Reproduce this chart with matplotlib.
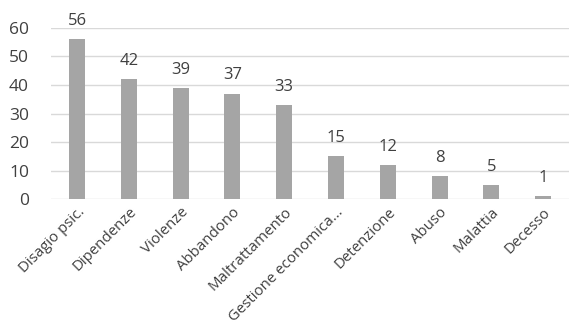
import matplotlib.pyplot as plt
import numpy as np

# categories and counts
categories = ["Disagio psic.", "Dipendenze", "Violenze", "Abbandono", "Maltrattamento",
              "Gestione economica...", "Detenzione", "Abuso", "Malattia", "Decesso"]
counts = [56, 42, 39, 37, 33, 15, 12, 8, 5, 1]
y_ticks = [0, 10, 20, 30, 40, 50, 60]

plt.rcParams['font.family'] = ['Open Sans', 'DejaVu Sans']

fig = plt.figure(figsize=(5.69, 3.29), dpi=100)
ax = fig.add_axes([0.09, 0.395, 0.91, 0.52])

x = np.arange(len(categories))
bars = ax.bar(x, counts, width=0.31, color="#a5a5a5", zorder=3)

# value labels on top of each bar
for xi, v in zip(x, counts):
    ax.text(xi, v + 3.6, str(v), ha="center", va="bottom", fontsize=12,
            color="#404040", clip_on=False)

ax.set_xlim(-0.5, len(categories) - 0.5)
ax.set_ylim(0, 60)
ax.set_yticks(y_ticks)
ax.set_yticklabels([str(t) for t in y_ticks], fontsize=12.5, color="#404040")
ax.set_xticks(x)
ax.set_xticklabels(categories, rotation=45, ha="right", rotation_mode="anchor",
                   fontsize=10.8, color="#404040")
ax.tick_params(axis="both", length=0)
ax.tick_params(axis="y", pad=16)
ax.tick_params(axis="x", pad=4)

ax.grid(axis="y", color="#d9d9d9", linewidth=1, zorder=0)
for s in ax.spines.values():
    s.set_visible(False)

fig.savefig("out.png", dpi=100)
